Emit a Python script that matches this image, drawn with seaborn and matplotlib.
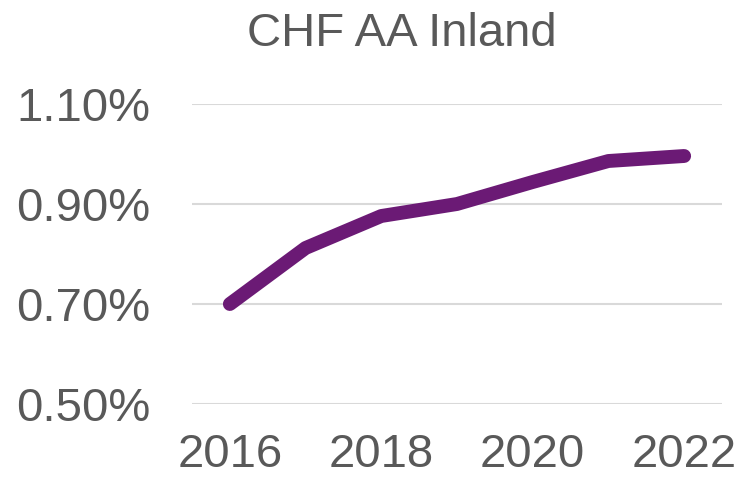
import pandas as pd
import matplotlib
matplotlib.use("Agg")
import matplotlib.pyplot as plt
import seaborn as sns
from matplotlib.ticker import FuncFormatter

# values
years = [2016, 2017, 2018, 2019, 2020, 2021, 2022]
rates = [0.700, 0.812, 0.876, 0.900, 0.944, 0.986, 0.996]
y_ticks = [0.50, 0.70, 0.90, 1.10]
x_ticks = [2016, 2018, 2020, 2022]
title = "CHF AA Inland"

df = pd.DataFrame({"Year": years, "Rate": rates})

sns.set_theme(style="white")
plt.rcParams["font.family"] = ["Liberation Sans", "DejaVu Sans"]
text_col = "#595959"

fig = plt.figure(figsize=(7.4, 4.79), dpi=100)
ax = fig.add_axes([192 / 740, 1 - 404 / 479, 530 / 740, 300 / 479])

sns.lineplot(data=df, x="Year", y="Rate", ax=ax, color="#6b1a75",
             linewidth=10, solid_capstyle="round", solid_joinstyle="round",
             zorder=3)

ax.set_ylim(0.5, 1.1)
ax.set_xlim(2015.5, 2022.5)
ax.set_yticks(y_ticks)
ax.set_xticks(x_ticks)
ax.yaxis.set_major_formatter(FuncFormatter(lambda v, p: f"{v:.2f}%"))
ax.grid(axis="y", color="#d9d9d9", linewidth=1.5)
ax.grid(axis="x", visible=False)
for s in ax.spines.values():
    s.set_visible(False)

ax.tick_params(axis="y", length=0, pad=30, labelsize=34, labelcolor=text_col)
ax.tick_params(axis="x", length=0, pad=21, labelsize=34, labelcolor=text_col)
ax.set_xlabel("")
ax.set_ylabel("")

fig.text((246 + 557) / 2 / 740, 1 - 34 / 479, title, ha="center", va="center",
         fontsize=34, color=text_col)

fig.savefig("out.png", dpi=100)
